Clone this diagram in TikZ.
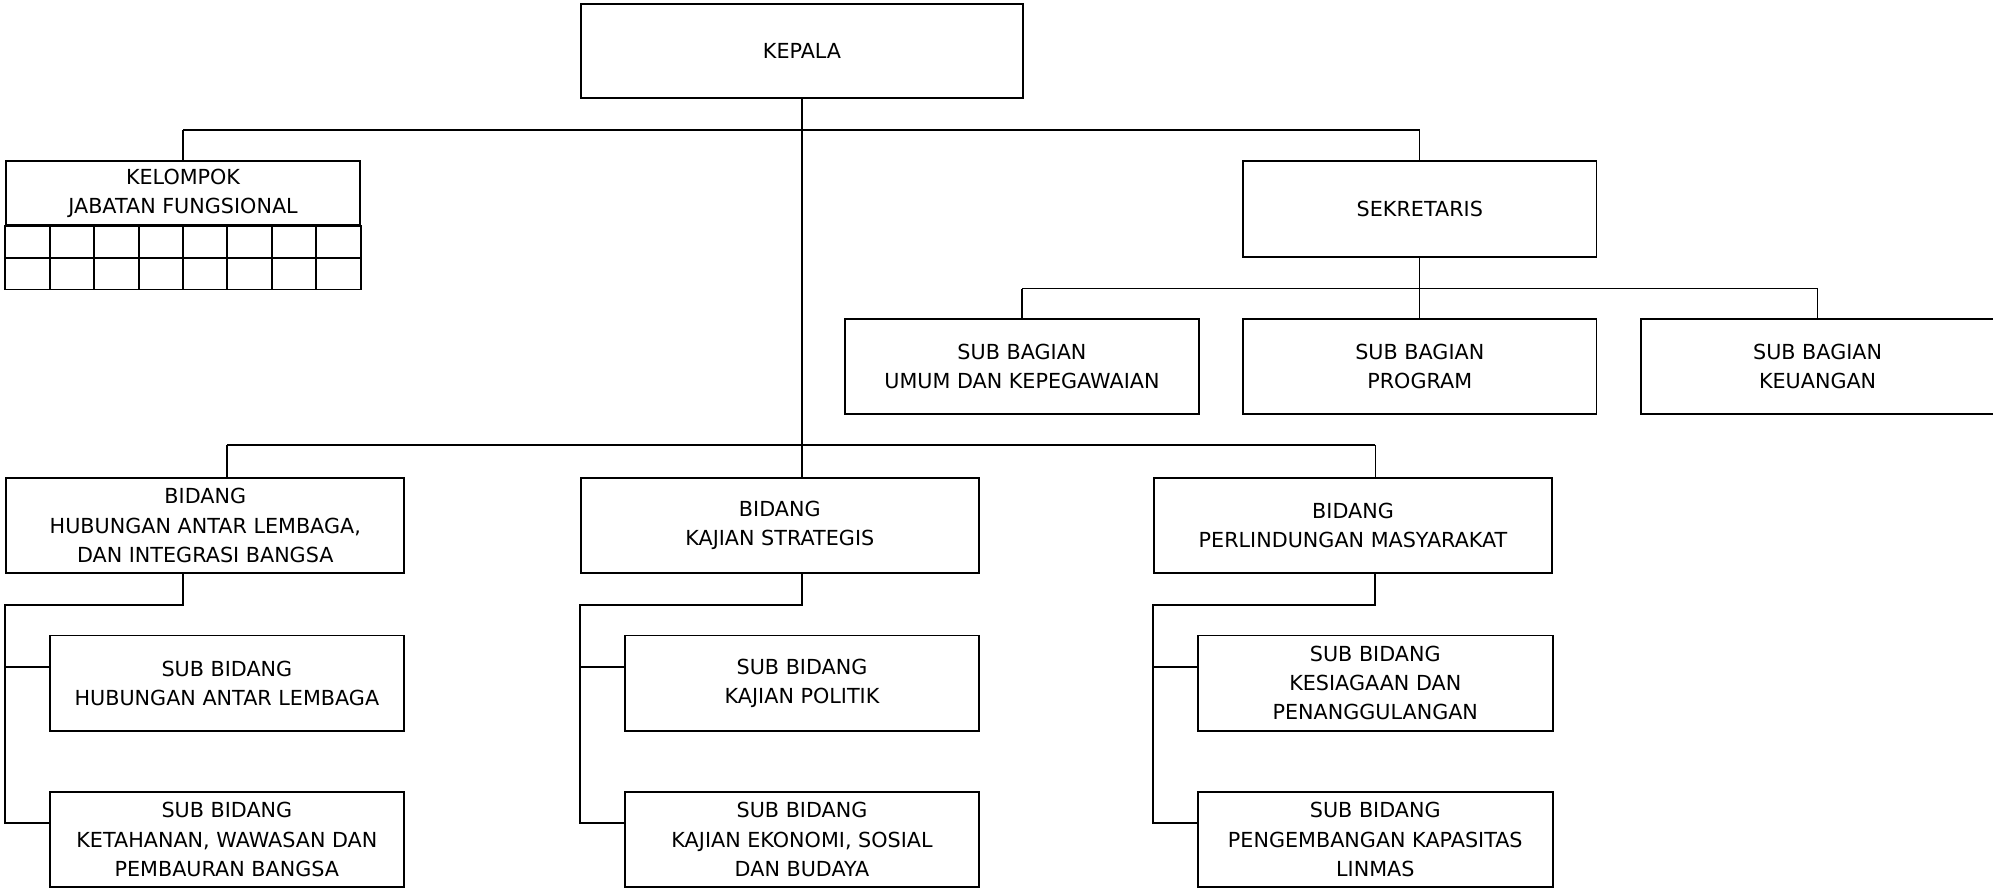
\documentclass[tikz,border=0pt]{standalone}
\usepackage{fontspec}
\setmainfont{DejaVu Sans}
\usetikzlibrary{calc}

\tikzset{
  unit/.style={draw, rectangle, line width=1.5pt, inner sep=0pt, align=center,
    font=\fontsize{16.3}{23}\selectfont},
  wide/.style={unit, minimum width=313pt, minimum height=75pt},
  small/.style={unit, minimum width=278pt, minimum height=75pt},
  link/.style={line width=1pt},
  bus/.style={line width=1.5pt},
}

\begin{document}
\begin{tikzpicture}[x=1pt,y=-1pt]
\useasboundingbox (0,0) rectangle (1568,700);

% top
\node[unit, minimum width=348pt, minimum height=74pt] (kepala) at (631,40) {KEPALA};
\node[unit, minimum width=278pt, minimum height=50pt] (kjf) at (144,152) {KELOMPOK\\JABATAN FUNGSIONAL};
\node[small] (sek) at (1117,164.5) {SEKRETARIS};

% sub bagian
\node[small] (umum) at (804,288.5) {SUB BAGIAN\\UMUM DAN KEPEGAWAIAN};
\node[small] (prog) at (1117,288.5) {SUB BAGIAN\\PROGRAM};
\node[small] (keu) at (1430,288.5) {SUB BAGIAN\\KEUANGAN};

% bidang
\node[wide] (hub) at (161.5,413.5) {BIDANG\\HUBUNGAN ANTAR LEMBAGA,\\DAN INTEGRASI BANGSA};
\node[wide] (kaj) at (613.5,413.5) {BIDANG\\KAJIAN STRATEGIS};
\node[wide] (per) at (1064.5,413.5) {BIDANG\\PERLINDUNGAN MASYARAKAT};

% sub bidang
\node[small, minimum width=279pt] (hubA) at (178.5,537.5) {SUB BIDANG\\HUBUNGAN ANTAR LEMBAGA};
\node[small, minimum width=279pt] (hubB) at (178.5,660.5) {SUB BIDANG\\KETAHANAN, WAWASAN DAN\\PEMBAURAN BANGSA};
\node[small, minimum width=279pt] (kajA) at (631,537.5) {SUB BIDANG\\KAJIAN POLITIK};
\node[small, minimum width=279pt] (kajB) at (631,660.5) {SUB BIDANG\\KAJIAN EKONOMI, SOSIAL\\DAN BUDAYA};
\node[small, minimum width=279pt] (perA) at (1082,537.5) {SUB BIDANG\\KESIAGAAN DAN\\PENANGGULANGAN};
\node[small, minimum width=279pt] (perB) at (1082,660.5) {SUB BIDANG\\PENGEMBANGAN KAPASITAS\\LINMAS};

% grid under kelompok
\draw[line width=1.5pt] (kjf.south west) rectangle ($(kjf.south east)+(0,50)$);
\draw[line width=1.5pt] ($(kjf.south west)+(0,25)$) -- ($(kjf.south east)+(0,25)$);
\foreach \i in {1,...,7}
  \draw[line width=1.5pt] ($(kjf.south west)!\i/8!(kjf.south east)$) -- ++(0,50);

% bus lines
\coordinate (topbus) at (0,102);
\coordinate (secbus) at (0,227);
\coordinate (bidbus) at (0,350);

\draw[link] (kepala.south) -- (kepala.south |- kaj.north);
\draw[bus] (kjf.north |- topbus) -- (sek.north |- topbus);
\draw[link] (kjf.north) -- (kjf.north |- topbus);
\draw[link] (sek.north) -- (sek.north |- topbus);

\draw[link] (sek.south) -- (prog.north);
\draw[bus] (umum.north |- secbus) -- (keu.north |- secbus);
\draw[link] (umum.north) -- (umum.north |- secbus);
\draw[link] (keu.north) -- (keu.north |- secbus);

\draw[bus] (hubA.north |- bidbus) -- (perA.north |- bidbus);
\draw[link] (hubA.north |- bidbus) -- (hubA.north |- hub.north);
\draw[link] (perA.north |- bidbus) -- (perA.north |- per.north);

% sub bidang links
\coordinate (hubAin) at ([yshift=13pt]hubA.west);
\coordinate (hubBin) at ([yshift=13pt]hubB.west);
\coordinate (kajAin) at ([yshift=13pt]kajA.west);
\coordinate (kajBin) at ([yshift=13pt]kajB.west);
\coordinate (perAin) at ([yshift=13pt]perA.west);
\coordinate (perBin) at ([yshift=13pt]perB.west);

\draw[bus] ([xshift=-17.5pt]hub.south) -- ++(0,24) -| (hub.west |- hubBin) -- (hubBin);
\draw[bus] (hub.west |- hubAin) -- (hubAin);
\draw[bus] ([xshift=17.5pt]kaj.south) -- ++(0,24) -| (kaj.west |- kajBin) -- (kajBin);
\draw[bus] (kaj.west |- kajAin) -- (kajAin);
\draw[bus] ([xshift=17.5pt]per.south) -- ++(0,24) -| (per.west |- perBin) -- (perBin);
\draw[bus] (per.west |- perAin) -- (perAin);

\end{tikzpicture}
\end{document}
